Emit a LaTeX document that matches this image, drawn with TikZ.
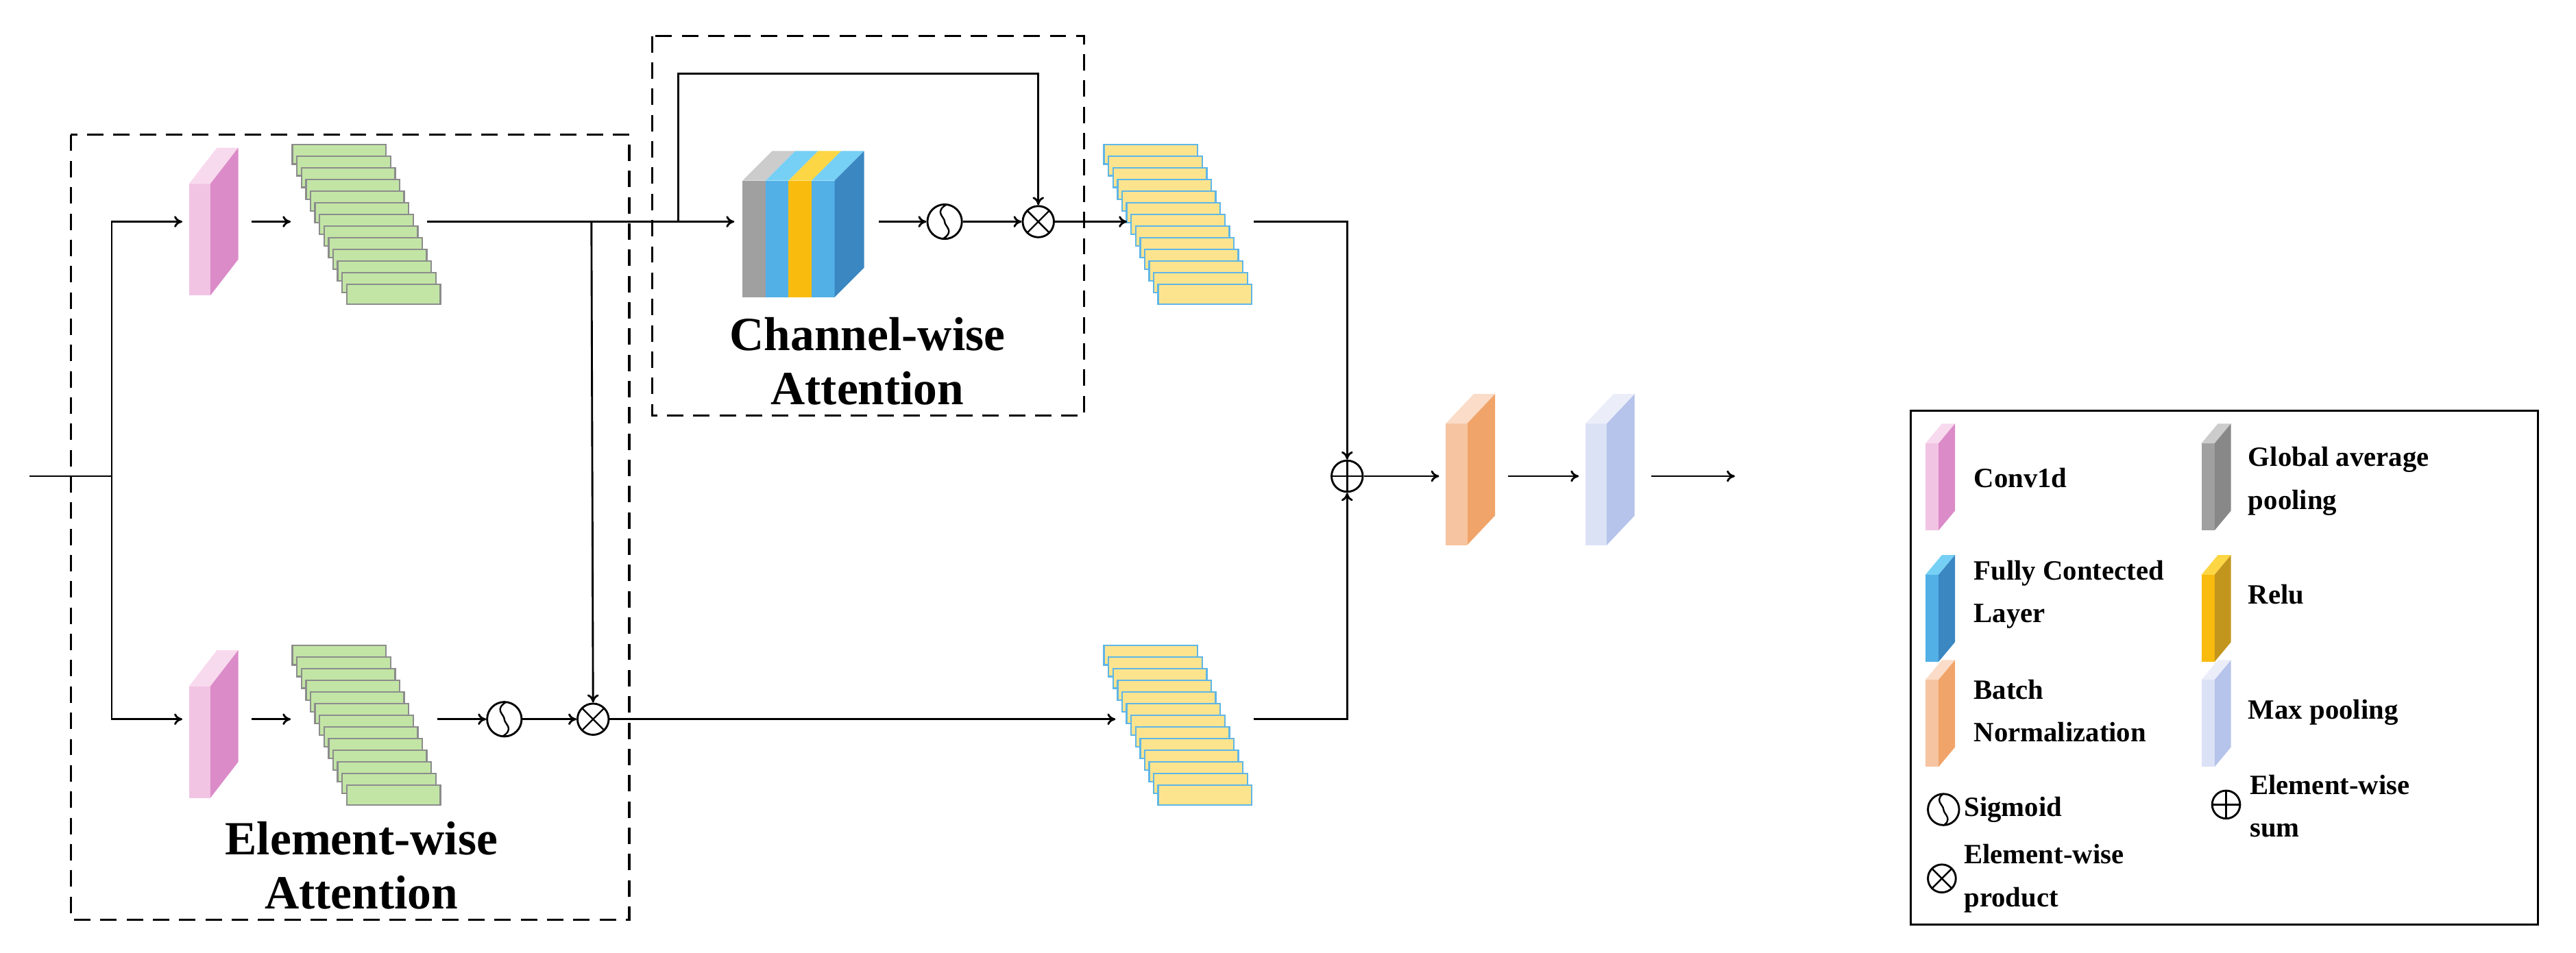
\documentclass[tikz,border=0pt]{standalone}
\usepackage{fontspec}
\setmainfont{Liberation Serif}
\usetikzlibrary{arrows.meta,calc}
\definecolor{cvf}{HTML}{F2C4E4}\definecolor{cvs}{HTML}{DB8BC8}\definecolor{cvt}{HTML}{F8DAEE}
\definecolor{gaf}{HTML}{A0A0A0}\definecolor{gas}{HTML}{888888}\definecolor{gat}{HTML}{CCCCCC}
\definecolor{fcf}{HTML}{52B0E6}\definecolor{fcs}{HTML}{3A87C2}\definecolor{fct}{HTML}{76D0F5}
\definecolor{ref}{HTML}{F9BB0E}\definecolor{res}{HTML}{C2951C}\definecolor{ret}{HTML}{FDD645}
\definecolor{bnf}{HTML}{F6C4A0}\definecolor{bns}{HTML}{F1A469}\definecolor{bnt}{HTML}{FADCC8}
\definecolor{mpf}{HTML}{DCE2F6}\definecolor{mps}{HTML}{B6C3EA}\definecolor{mpt}{HTML}{EBEEF9}
\definecolor{grf}{HTML}{C2E5A5}\definecolor{yef}{HTML}{FCE48E}\definecolor{yeb}{HTML}{5FB6E6}
\newcommand\blk[9]{%
 \fill[#7] ({#1},{#2}) rectangle ({#1+#3},{#2+#4});
 \fill[#9] ({#1},{#2})--({#1+#5},{#2-#6})--({#1+#3+#5},{#2-#6})--({#1+#3},{#2})--cycle;
 \fill[#8] ({#1+#3},{#2})--({#1+#3+#5},{#2-#6})--({#1+#3+#5},{#2+#4-#6})--({#1+#3},{#2+#4})--cycle;}
\tikzset{
 x=1pt,y=-1pt,
 ln/.style={line width=1.2pt},
 ar/.style={ln,-{To[length=5pt,width=7pt]}},
 dsh/.style={line width=1.3pt,dash pattern=on 10pt off 6pt},
 sym/.style={circle,draw,line width=1.2pt,minimum size=19pt,inner sep=0pt},
 otimes/.style={sym,path picture={\draw[line width=1pt] (path picture bounding box.north west)--(path picture bounding box.south east) (path picture bounding box.north east)--(path picture bounding box.south west);}},
 oplus/.style={sym,path picture={\draw[line width=1pt] (path picture bounding box.north)--(path picture bounding box.south) (path picture bounding box.east)--(path picture bounding box.west);}},
 sigm/.style={sym,minimum width=17pt,minimum height=21pt,ellipse/.try,path picture={\draw[line width=1pt] ($(path picture bounding box.center)+(2,-11)$) .. controls +(-9,5) and +(0,-3) .. ($(path picture bounding box.center)+(0,0)$) .. controls +(0,3) and +(9,-5) .. ($(path picture bounding box.center)+(-2,11)$);}},
 ttl/.style={font=\bfseries\fontsize{29}{33}\selectfont,align=center},
 lg/.style={font=\bfseries\fontsize{17}{26}\selectfont,anchor=west,align=left},
 grs/.style={fill=grf,draw=gray!90,line width=1pt},
 yes/.style={fill=yef,draw=yeb,line width=1pt}
}
\begin{document}
\begin{tikzpicture}
\useasboundingbox (0,0) rectangle (1568,580);
% dashed boxes
\draw[dsh] (43,82) rectangle (383,560);
\draw[dsh] (397,22) rectangle (660,253);
% blocks
\blk{115}{112}{13}{68}{17}{22}{cvf}{cvs}{cvt}
\blk{115}{418}{13}{68}{17}{22}{cvf}{cvs}{cvt}
\foreach \i in {0,...,12} \draw[grs] ({178+2.75*\i},{88+7.1*\i}) rectangle +(57,12);
\foreach \i in {0,...,12} \draw[grs] ({178+2.75*\i},{393+7.1*\i}) rectangle +(57,12);
\foreach \i in {0,...,12} \draw[yes] ({672+2.75*\i},{88+7.1*\i}) rectangle +(57,12);
\foreach \i in {0,...,12} \draw[yes] ({672+2.75*\i},{393+7.1*\i}) rectangle +(57,12);
% channel block
\fill[gaf] (452,110) rectangle (466,181); \fill[gat] (452,110)--(470,92)--(484,92)--(466,110)--cycle;
\fill[fcf] (466,110) rectangle (480,181); \fill[fct] (466,110)--(484,92)--(498,92)--(480,110)--cycle;
\fill[ref] (480,110) rectangle (494,181); \fill[ret] (480,110)--(498,92)--(512,92)--(494,110)--cycle;
\fill[fcf] (494,110) rectangle (508,181); \fill[fct] (494,110)--(512,92)--(526,92)--(508,110)--cycle;
\fill[fcs] (508,110)--(526,92)--(526,163)--(508,181)--cycle;
\blk{880}{258}{13}{74}{17}{18}{bnf}{bns}{bnt}
\blk{965}{258}{13}{74}{17}{18}{mpf}{mps}{mpt}
% symbols
\node[sigm] (s1) at (575,135) {};
\node[otimes] (m1) at (632,135) {};
\node[sigm] (s2) at (307,438) {};
\node[otimes] (m2) at (361,438) {};
\node[oplus] (p1) at (820,290) {};
% coordinates
\coordinate (in) at (18,290); \coordinate (sp) at (68,290);
\coordinate (c1) at (111,135); \coordinate (c2) at (111,438);
\coordinate (g1i) at (177,135); \coordinate (g2i) at (177,438);
\coordinate (g1o) at (260,135); \coordinate (g2o) at (266,438);
\coordinate (chi) at (447,135); \coordinate (cho) at (535,135);
\coordinate (y1i) at (686,135); \coordinate (y2i) at (679,438);
\coordinate (y1o) at (763,135); \coordinate (y2o) at (763,438);
\coordinate (bni) at (876,290); \coordinate (bno) at (918,290);
\coordinate (mpi) at (961,290); \coordinate (mpo) at (1005,290); \coordinate (out) at (1056,290);
% connectors
\draw[ln] (in)--(sp);
\draw[ar] (sp)|-(c1);
\draw[ar] (sp)|-(c2);
\draw[ar] (153,135)--(g1i);
\draw[ar] (153,438)--(g2i);
\draw[ar] (g1o)--(chi);
\draw[ar] (360,135)--(m2.north);
\draw[ar] (413,135)--(413,45)-|(m1.north);
\draw[ar] (cho)--(s1);
\draw[ar] (s1)--(m1);
\draw[ar] (m1)--(y1i);
\draw[ar] (g2o)--(s2);
\draw[ar] (s2)--(m2);
\draw[ar] (m2)--(y2i);
\draw[ar] (y1o)-|(p1.north);
\draw[ar] (y2o)-|(p1.south);
\draw[ar] (p1)--(bni);
\draw[ar] (bno)--(mpi);
\draw[ar] (mpo)--(out);
% titles
\node[ttl] (t1) at (528,220) {Channel-wise\\Attention};
\node[ttl] (t2) at (220,527) {Element-wise\\Attention};
% legend
\draw[line width=1.3pt] (1163,250) rectangle (1545,563);
\blk{1172}{270}{8}{53}{10}{12}{cvf}{cvs}{cvt}
\blk{1340}{270}{8}{53}{10}{12}{gaf}{gas}{gat}
\blk{1172}{350}{8}{53}{10}{12}{fcf}{fcs}{fct}
\blk{1340}{350}{8}{53}{10}{12}{ref}{res}{ret}
\blk{1172}{414}{8}{53}{10}{12}{bnf}{bns}{bnt}
\blk{1340}{414}{8}{53}{10}{12}{mpf}{mps}{mpt}
\node[lg] (l1) at (1198,291) {Conv1d};
\node[lg] (l2) at (1365,293) {Global average\\pooling};
\node[lg] (l3) at (1198,362) {Fully Contected\\Layer};
\node[lg] (l4) at (1365,362) {Relu};
\node[lg] (l5) at (1198,433) {Batch\\Normalization};
\node[lg] (l6) at (1365,434) {Max pooling};
\node[sigm,minimum width=15pt,minimum height=19pt] (ls) at (1183,493) {};
\node[lg] (l7) at (1192,493) {Sigmoid};
\node[oplus,minimum size=17pt] (lp) at (1355,490) {};
\node[lg] (l8) at (1366,491) {Element-wise\\sum};
\node[otimes,minimum size=17pt] (lm) at (1182,535) {};
\node[lg] (l9) at (1192,535) {Element-wise\\product};
\end{tikzpicture}
\end{document}
